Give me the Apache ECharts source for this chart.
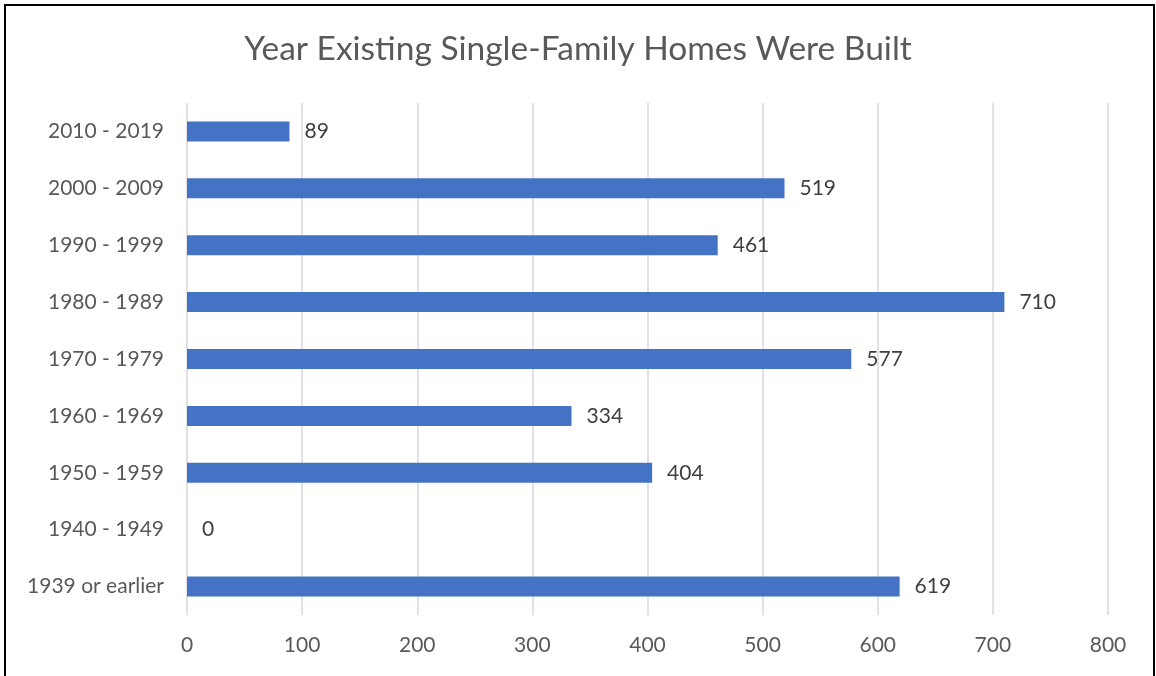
<!DOCTYPE html>
<html>
<head>
<meta charset="utf-8">
<script src="https://cdn.jsdelivr.net/npm/echarts@6/dist/echarts.min.js"></script>
<style>
html,body{margin:0;padding:0;background:#fff;}
#chart{position:absolute;left:0;top:0;width:1156px;height:676px;}
#frame{position:absolute;left:4px;top:4px;width:1147px;height:700px;border:2px solid #000;pointer-events:none;}
</style>
</head>
<body>
<div id="chart"></div>
<div id="frame"></div>
<script>
const categories = ['1939 or earlier','1940 - 1949','1950 - 1959','1960 - 1969','1970 - 1979','1980 - 1989','1990 - 1999','2000 - 2009','2010 - 2019'];
const homes = [619, 0, 404, 334, 577, 710, 461, 519, 89];
const xTicks = [0, 100, 200, 300, 400, 500, 600, 700, 800];
const titleText = 'Year Existing Single-Family Homes Were Built';

const chart = echarts.init(document.getElementById('chart'), null, {renderer:'canvas'});
chart.setOption({
  animation:false,
  backgroundColor:'#fff',
  title:{
    text:titleText,
    left:'center',
    top:27,
    textStyle:{fontFamily:'Lato',fontSize:33.5,fontWeight:'normal',color:'#595959'}
  },
  grid:{left:187,right:48,top:103,bottom:61,containLabel:false},
  xAxis:{
    type:'value',
    min:xTicks[0],
    max:xTicks[xTicks.length-1],
    interval:100,
    axisLine:{show:false},
    axisTick:{show:false},
    axisLabel:{fontFamily:'Lato',fontSize:21,color:'#595959',margin:20},
    splitLine:{show:true,lineStyle:{color:'#d9d9d9',width:1.5}}
  },
  yAxis:{
    type:'category',
    data:categories,
    axisLine:{show:false},
    axisTick:{show:false},
    axisLabel:{fontFamily:'Lato',fontSize:21,color:'#595959',margin:23},
    splitLine:{show:false}
  },
  series:[{
    type:'bar',
    data:homes,
    barWidth:20,
    itemStyle:{color:'#4472C4'},
    label:{show:true,position:'right',distance:15,fontFamily:'Lato',fontSize:21,color:'#404040'}
  }]
});
</script>
</body>
</html>
